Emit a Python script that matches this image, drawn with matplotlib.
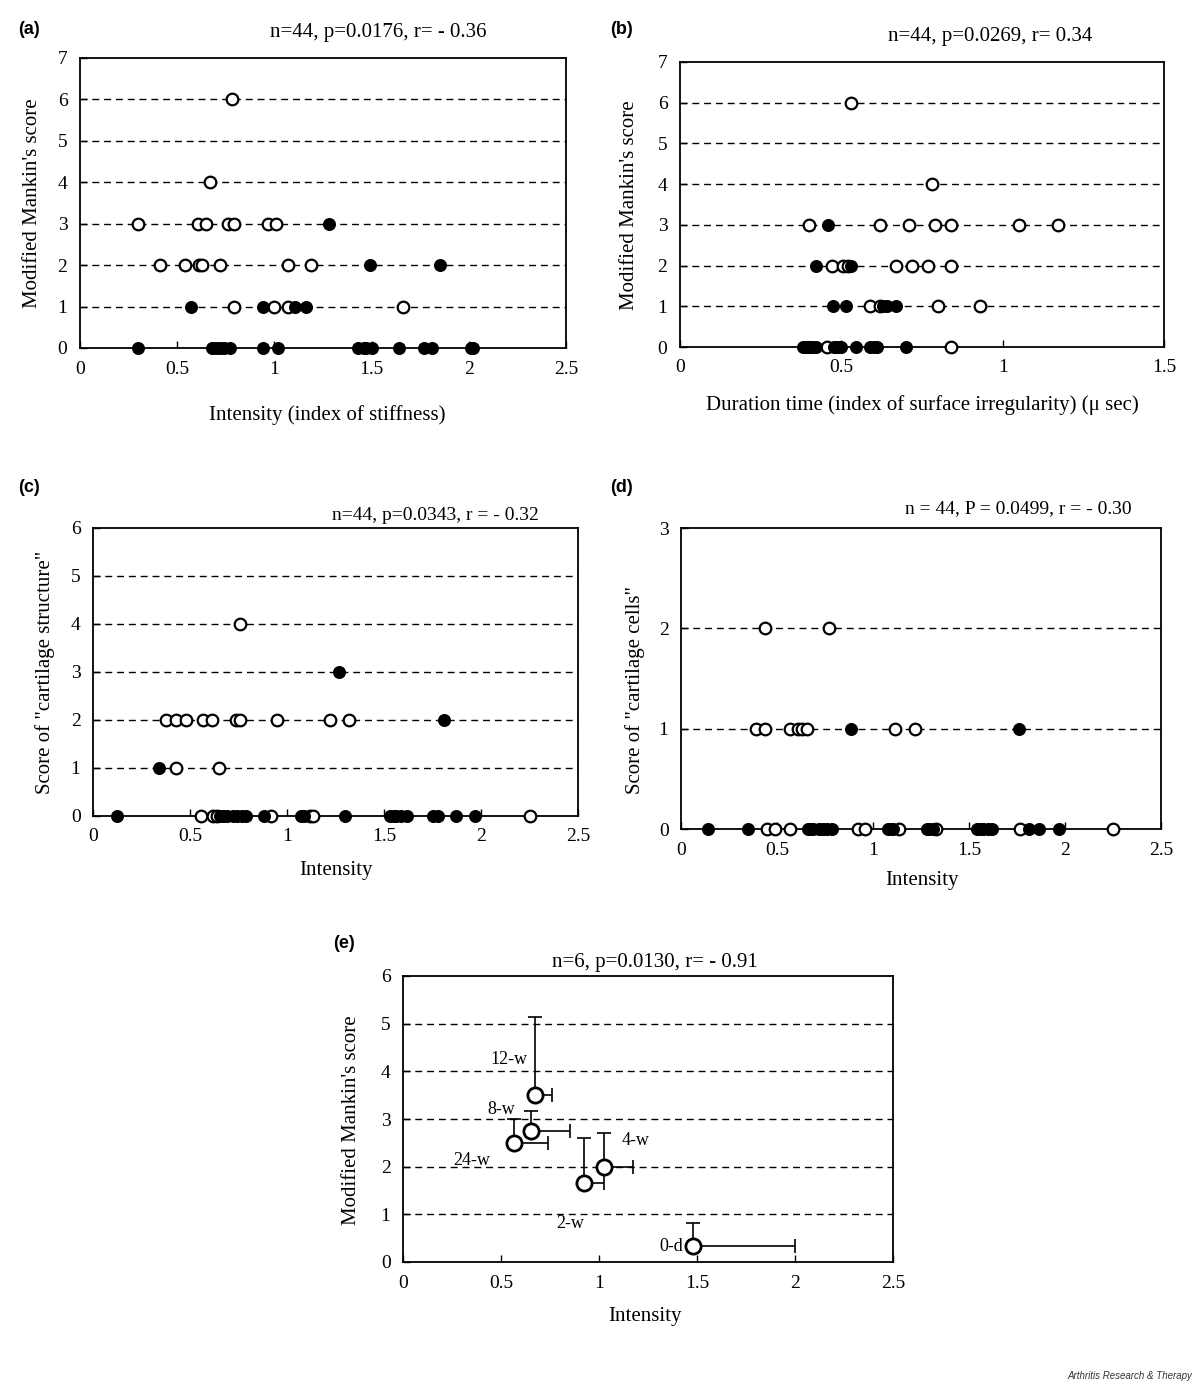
import matplotlib
matplotlib.use("Agg")
from matplotlib import pyplot as plt
import numpy as np

W, H = 1200, 1383
SERIF = ["Liberation Serif", "DejaVu Serif"]
SANS = ["Liberation Sans", "DejaVu Sans"]

# ---- panel (a): Mankin's score vs intensity ----
a_open_x = [0.78, 0.67,
            0.30, 0.605, 0.65, 0.76, 0.79, 0.965, 1.01,
            0.41, 0.54, 0.61, 0.63, 0.72, 1.07, 1.19,
            0.79, 1.00, 1.07, 1.66]
a_open_y = [6, 4,
            3, 3, 3, 3, 3, 3, 3,
            2, 2, 2, 2, 2, 2, 2,
            1, 1, 1, 1]
a_fill_x = [1.28, 1.49, 1.85, 0.57, 0.94, 1.105, 1.16,
            0.30, 0.68, 0.70, 0.72, 0.74, 0.77, 0.94, 1.02, 1.43, 1.46,
            1.47, 1.50, 1.64, 1.77, 1.81, 2.01, 2.02]
a_fill_y = [3, 2, 2, 1, 1, 1, 1,
            0, 0, 0, 0, 0, 0, 0, 0, 0, 0,
            0, 0, 0, 0, 0, 0, 0]

# ---- panel (b): Mankin's score vs duration time ----
b_open_x = [0.531, 0.78,
            0.40, 0.62, 0.71, 0.79, 0.84, 1.05, 1.17,
            0.47, 0.505, 0.52, 0.67, 0.72, 0.77, 0.84,
            0.59, 0.62, 0.80, 0.93,
            0.455, 0.84]
b_open_y = [6, 4,
            3, 3, 3, 3, 3, 3, 3,
            2, 2, 2, 2, 2, 2, 2,
            1, 1, 1, 1,
            0, 0]
b_fill_x = [0.46, 0.42, 0.53, 0.475, 0.515, 0.63, 0.64, 0.67,
            0.38, 0.39, 0.40, 0.41, 0.42, 0.476, 0.48, 0.49, 0.50,
            0.547, 0.59, 0.60, 0.61, 0.70]
b_fill_y = [3, 2, 2, 1, 1, 1, 1, 1,
            0, 0, 0, 0, 0, 0, 0, 0, 0,
            0, 0, 0, 0, 0]

# ---- panel (c): cartilage structure vs intensity ----
c_open_x = [0.76,
            0.376, 0.43, 0.48, 0.565, 0.615, 0.735, 0.76, 0.95, 1.22, 1.32,
            0.43, 0.65,
            0.557, 0.62, 0.64, 0.92, 1.12, 1.135, 2.25]
c_open_y = [4,
            2, 2, 2, 2, 2, 2, 2, 2, 2, 2,
            1, 1,
            0, 0, 0, 0, 0, 0, 0]
c_fill_x = [1.27, 1.81, 0.34,
            0.125, 0.655, 0.67, 0.69, 0.72, 0.74, 0.77, 0.79, 0.88, 1.07, 1.09,
            1.30, 1.53, 1.55, 1.56, 1.59, 1.62, 1.755, 1.78, 1.87, 1.97]
c_fill_y = [3, 2, 1,
            0, 0, 0, 0, 0, 0, 0, 0, 0, 0, 0,
            0, 0, 0, 0, 0, 0, 0, 0, 0, 0]

# ---- panel (d): cartilage cells vs intensity ----
d_open_x = [0.44, 0.77,
            0.39, 0.44, 0.57, 0.61, 0.63, 0.655, 1.116, 1.22,
            0.447, 0.49, 0.57, 0.92, 0.96, 1.135, 1.33, 1.766, 2.25]
d_open_y = [2, 2,
            1, 1, 1, 1, 1, 1, 1, 1,
            0, 0, 0, 0, 0, 0, 0, 0, 0]
d_fill_x = [0.885, 1.76,
            0.14, 0.35, 0.66, 0.67, 0.69, 0.72, 0.74, 0.76, 0.785, 1.08, 1.09,
            1.106, 1.28, 1.29, 1.31, 1.54, 1.56, 1.575, 1.60, 1.62, 1.814,
            1.866, 1.97]
d_fill_y = [1, 1,
            0, 0, 0, 0, 0, 0, 0, 0, 0, 0, 0,
            0, 0, 0, 0, 0, 0, 0, 0, 0, 0,
            0, 0]

# ---- panel (e): mean values per time point ----
e_labels = ["12-w", "8-w", "24-w", "2-w", "4-w", "0-d"]
e_x = [0.672, 0.653, 0.568, 0.925, 1.027, 1.48]
e_y = [3.5, 2.75, 2.5, 1.66, 2.0, 0.33]
e_xerr = [0.09, 0.20, 0.17, 0.10, 0.145, 0.52]
e_yerr = [1.64, 0.42, 0.50, 0.94, 0.70, 0.49]
e_lab_dx = [-0.13, -0.15, -0.22, -0.07, 0.16, -0.11]
e_lab_dy = [0.75, 0.45, -0.38, -0.85, 0.55, 0.0]

x_ticks = [0, 0.5, 1, 1.5, 2, 2.5]
x_ticklabels = ["0", "0.5", "1", "1.5", "2", "2.5"]
b_ticks = [0, 0.5, 1, 1.5]
b_ticklabels = ["0", "0.5", "1", "1.5"]

fig = plt.figure(figsize=(W / 100, H / 100), dpi=100)


def ax_px(left, top, right, bottom):
    return fig.add_axes([left / W, 1 - bottom / H, (right - left) / W, (bottom - top) / H])


def setup(ax, xmax, ymax, xt, xtl, fs=14):
    ax.set_xlim(0, xmax)
    ax.set_ylim(0, ymax)
    for y in range(1, ymax):
        ax.axhline(y, color="black", lw=1.0, dashes=(5, 3.5), zorder=1)
    ax.set_xticks(xt)
    ax.set_xticklabels(xtl)
    ax.set_yticks(range(0, ymax + 1))
    ax.tick_params(direction="in", length=5, width=1, pad=9, labelsize=fs)
    for lab in ax.get_xticklabels() + ax.get_yticklabels():
        lab.set_family(SERIF)
    for s in ax.spines.values():
        s.set_linewidth(1.3)


def dots(ax, ox, oy, fx, fy):
    ax.scatter(ox, oy, s=70, facecolor="white", edgecolor="black", linewidths=1.6,
               zorder=3, clip_on=False)
    ax.scatter(fx, fy, s=70, facecolor="black", edgecolor="black", linewidths=1.0,
               zorder=4, clip_on=False)


# (a)
ax = ax_px(80, 58, 566, 348)
setup(ax, 2.5, 7, x_ticks, x_ticklabels)
dots(ax, a_open_x, a_open_y, a_fill_x, a_fill_y)
fig.text(18 / W, 1 - 30 / H, "(a)", family=SANS, weight="bold", fontsize=13, va="center")
fig.text(378 / W, 1 - 32 / H, "n=44, p=0.0176, r= - 0.36", family=SERIF, fontsize=15,
         ha="center", va="center")
fig.text(327 / W, 1 - 415 / H, "Intensity (index of stiffness)", family=SERIF,
         fontsize=15, ha="center", va="center")
fig.text(33 / W, 1 - 203 / H, "Modified Mankin's score", family=SERIF, fontsize=15,
         rotation=90, ha="center", va="center")

# (b)
ax = ax_px(680, 62, 1164, 347)
setup(ax, 1.5, 7, b_ticks, b_ticklabels)
dots(ax, b_open_x, b_open_y, b_fill_x, b_fill_y)
fig.text(610 / W, 1 - 30 / H, "(b)", family=SANS, weight="bold", fontsize=13, va="center")
fig.text(990 / W, 1 - 37 / H, "n=44, p=0.0269, r= 0.34", family=SERIF, fontsize=15,
         ha="center", va="center")
fig.text(922 / W, 1 - 405 / H,
         "Duration time (index of surface irregularity) (\u03bc sec)", family=SERIF,
         fontsize=15, ha="center", va="center")
fig.text(630 / W, 1 - 205 / H, "Modified Mankin's score", family=SERIF, fontsize=15,
         rotation=90, ha="center", va="center")

# (c)
ax = ax_px(93, 528, 578, 816)
setup(ax, 2.5, 6, x_ticks, x_ticklabels)
dots(ax, c_open_x, c_open_y, c_fill_x, c_fill_y)
fig.text(18 / W, 1 - 488 / H, "(c)", family=SANS, weight="bold", fontsize=13, va="center")
fig.text(435 / W, 1 - 515 / H, "n=44, p=0.0343, r = - 0.32", family=SERIF, fontsize=14,
         ha="center", va="center")
fig.text(336 / W, 1 - 870 / H, "Intensity", family=SERIF, fontsize=15,
         ha="center", va="center")
fig.text(45 / W, 1 - 672 / H, 'Score of "cartilage structure"', family=SERIF,
         fontsize=15, rotation=90, ha="center", va="center")

# (d)
ax = ax_px(681, 528, 1161, 829)
setup(ax, 2.5, 3, x_ticks, x_ticklabels)
dots(ax, d_open_x, d_open_y, d_fill_x, d_fill_y)
fig.text(610 / W, 1 - 488 / H, "(d)", family=SANS, weight="bold", fontsize=13, va="center")
fig.text(1018 / W, 1 - 509 / H, "n = 44, P = 0.0499, r = - 0.30", family=SERIF,
         fontsize=14, ha="center", va="center")
fig.text(922 / W, 1 - 880 / H, "Intensity", family=SERIF, fontsize=15,
         ha="center", va="center")
fig.text(635 / W, 1 - 690 / H, 'Score of "cartilage cells"', family=SERIF,
         fontsize=15, rotation=90, ha="center", va="center")

# (e)
ax = ax_px(403, 976, 893, 1262)
setup(ax, 2.5, 6, x_ticks, x_ticklabels)
ax.errorbar(e_x, e_y, xerr=[np.zeros(len(e_x)), e_xerr],
            yerr=[np.zeros(len(e_y)), e_yerr], fmt="none", ecolor="black",
            elinewidth=1.2, capsize=5, capthick=1.2, zorder=2)
ax.scatter(e_x, e_y, s=120, facecolor="white", edgecolor="black", linewidths=2.0,
           zorder=3)
for lab, x, y, dx, dy in zip(e_labels, e_x, e_y, e_lab_dx, e_lab_dy):
    ax.text(x + dx, y + dy, lab, family=SERIF, fontsize=13, ha="center", va="center")
fig.text(333 / W, 1 - 943 / H, "(e)", family=SANS, weight="bold", fontsize=13, va="center")
fig.text(655 / W, 1 - 962 / H, "n=6, p=0.0130, r= - 0.91", family=SERIF, fontsize=15,
         ha="center", va="center")
fig.text(645 / W, 1 - 1316 / H, "Intensity", family=SERIF, fontsize=15,
         ha="center", va="center")
fig.text(352 / W, 1 - 1120 / H, "Modified Mankin's score", family=SERIF, fontsize=15,
         rotation=90, ha="center", va="center")

fig.text(1192 / W, 1 - 1376 / H, "Arthritis Research & Therapy", family=SANS,
         style="italic", fontsize=7, ha="right", va="center", color="#333333")

fig.savefig("out.png", dpi=100)
